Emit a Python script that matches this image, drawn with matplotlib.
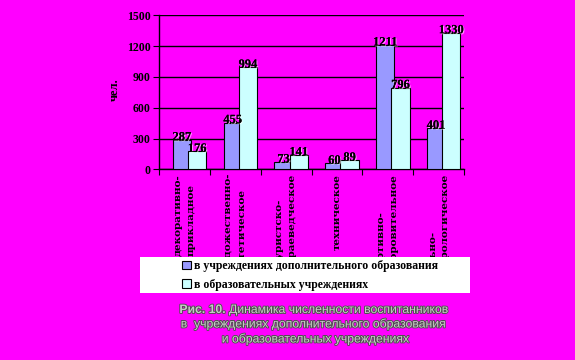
import matplotlib.pyplot as plt
import matplotlib.patheffects as pe
from matplotlib.patches import Rectangle
from matplotlib.transforms import Bbox, TransformedBbox

# ── data ───────────────────────────────────────────────────────────────────
categories = [
    "декоративно-\nприкладное",
    "художественно-\nэстетическое",
    "туристско-\nкраеведческое",
    "техническое",
    "спортивно-\nоздоровительное",
    "социально-\nкультурологическое",
]
dop_obr = [287, 455, 73, 60, 1211, 401]
obr_uchr = [176, 994, 141, 89, 796, 1330]
series_names = ["в учреждениях дополнительного образования",
                "в образовательных учреждениях"]
y_ticks = [0, 300, 600, 900, 1200, 1500]

BG = "#FF00FF"
BLUE = "#9999FF"
CYAN = "#CCFFFF"
SERIF = "Liberation Serif"
SANS = "Liberation Sans"

W, H = 575, 360
fig = plt.figure(figsize=(W / 100, H / 100), dpi=100, facecolor=BG)
ax = fig.add_axes([159 / W, 1 - 169.3 / H, (464 - 159) / W, (169.3 - 15.3) / H])
ax.set_facecolor(BG)

x = list(range(len(categories)))
bw = 0.36
xb = [i - 0.05 for i in x]
xc = [i + 0.25 for i in x]
b1 = ax.bar(xb, dop_obr, width=bw, color=BLUE, edgecolor="black", lw=0.8, zorder=3)
b2 = ax.bar(xc, obr_uchr, width=bw, color=CYAN, edgecolor="black", lw=0.8, zorder=4)

shadow = [pe.withSimplePatchShadow(offset=(0.8, -0.8), shadow_rgbFace="white",
                                   alpha=0.6), pe.Normal()]
for xs, vals in ((xb, dop_obr), (xc, obr_uchr)):
    for xi, v in zip(xs, vals):
        ax.text(xi, v + 25, str(v), ha="center", va="center", fontsize=9,
                fontweight="bold", family=SERIF, color="black", zorder=6,
                path_effects=shadow)

ax.set_xlim(-0.5, len(categories) - 0.5)
ax.set_ylim(0, 1500)
ax.set_yticks(y_ticks)
ax.set_yticklabels([str(t) for t in y_ticks], family=SERIF, fontweight="bold",
                   fontsize=8.5)
ax.set_xticks([i - 0.5 for i in range(len(categories) + 1)])
ax.set_xticklabels([])
ax.tick_params(axis="x", direction="out", length=4, width=0.8, colors="black")
ax.tick_params(axis="y", direction="out", length=4, width=0.8, pad=2)
ax.yaxis.grid(True, color="black", lw=1.0, zorder=1)
ax.set_axisbelow(True)
for s in ("top", "right"):
    ax.spines[s].set_visible(False)
for s in ("left", "bottom"):
    ax.spines[s].set_linewidth(1.0)

ax.text(-0.145, 0.52, "чел.", transform=ax.transAxes, rotation=90,
        ha="center", va="center", family=SERIF, fontweight="bold", fontsize=9)

# rotated category labels under the axis, cut off where the legend starts
label_clip = TransformedBbox(Bbox([[0, 1 - 258 / H], [1, 1 - 170 / H]]),
                             fig.transFigure)
for i, lab in enumerate(categories):
    t = ax.text(i, -45, lab, rotation=90, ha="center", va="top",
                multialignment="left", family="DejaVu Serif", fontweight="bold",
                fontsize=7.5, linespacing=1.55, zorder=2, clip_on=True)
    t.set_clip_box(label_clip)

# legend box
fig.patches.append(Rectangle((140 / W, 1 - 293 / H), (470 - 140) / W, 36 / H,
                             transform=fig.transFigure, facecolor="white",
                             edgecolor="none", zorder=5))
leg = fig.legend([b1, b2], series_names, loc="center left",
                 bbox_to_anchor=(176 / W, 1 - 275.5 / H), frameon=False,
                 prop={"family": SERIF, "weight": "bold", "size": 8.5},
                 handlelength=0.75, handleheight=0.75, handletextpad=0.3,
                 labelspacing=0.55, borderpad=0)
leg.set_zorder(6)

# caption
cap = dict(color="#C8C8C8", fontsize=8.8, family=SANS, zorder=7,
           path_effects=[pe.withStroke(linewidth=1.3, foreground="#505050")])
fig.text(226 / W, 1 - 310 / H, "Рис. 10.", ha="right", va="center",
         fontweight="bold", **cap)
fig.text(229 / W, 1 - 310 / H, "Динамика численности воспитанников",
         ha="left", va="center", **cap)
fig.text(314 / W, 1 - 324 / H, "в  учреждениях дополнительного образования",
         ha="center", va="center", **cap)
fig.text(316 / W, 1 - 339 / H, "и образовательных учреждениях",
         ha="center", va="center", **cap)

fig.savefig("out.png", dpi=100, facecolor=BG)
